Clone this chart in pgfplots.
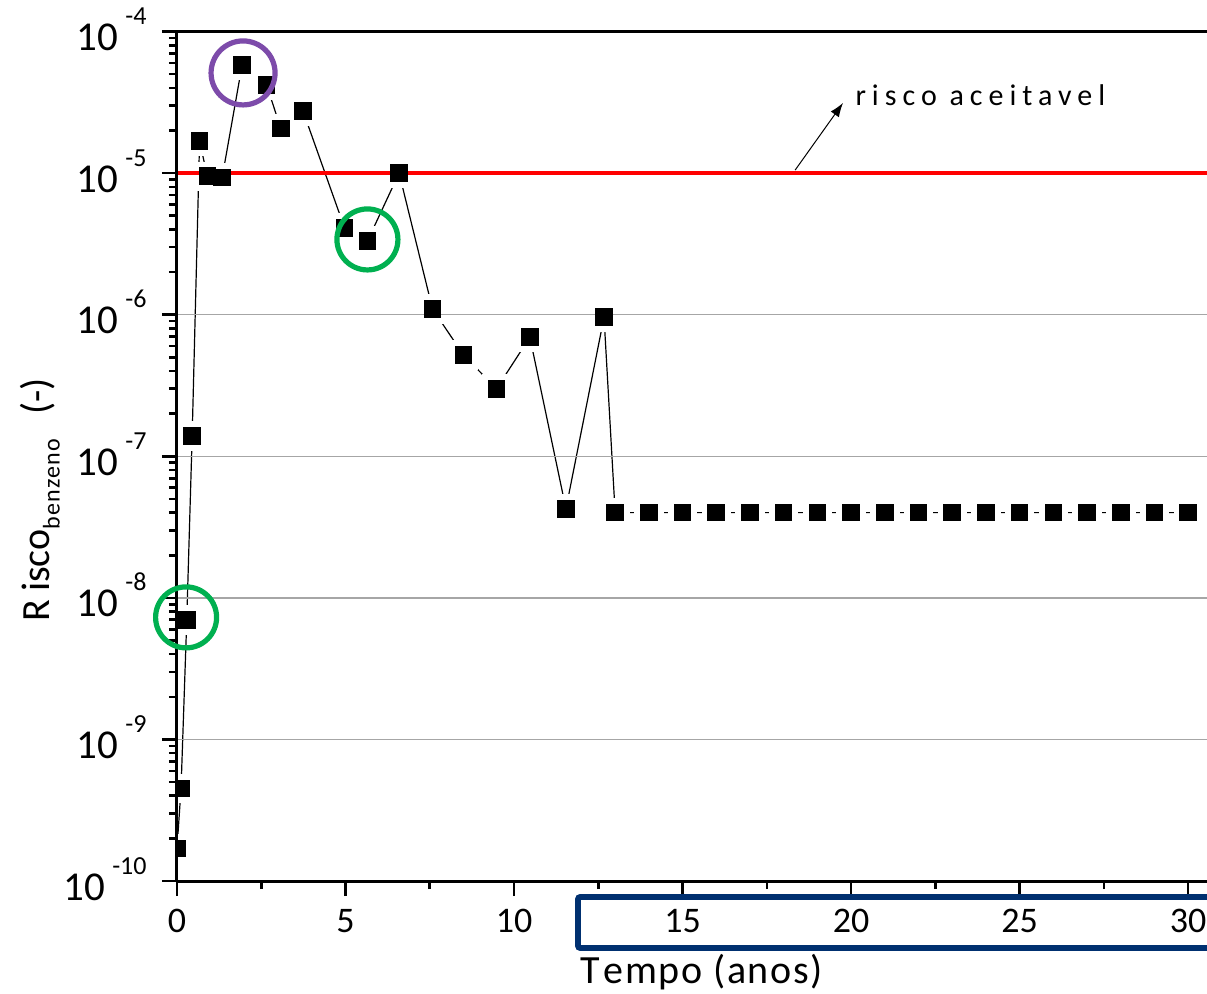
\documentclass[border=0pt]{standalone}
\usepackage{fontspec}
\setmainfont{Carlito}
\usepackage{pgfplots}
\usepackage{pgfplotstable}
\pgfplotsset{compat=1.18}
\usetikzlibrary{arrows.meta}

\definecolor{circpurple}{RGB}{125,75,170}
\definecolor{circgreen}{RGB}{0,176,80}
\definecolor{boxnavy}{RGB}{0,48,112}
\definecolor{gridgray}{RGB}{166,166,166}

% risco do benzeno ao longo do tempo
\pgfplotstableread{
t     risk
0.00  1.7e-10
0.12  4.5e-10
0.29  7.0e-9
0.45  1.39e-7
0.67  1.68e-5
0.90  9.5e-6
1.34  9.3e-6
1.93  5.78e-5
2.66  4.18e-5
3.08  2.07e-5
3.74  2.74e-5
4.97  4.11e-6
5.65  3.31e-6
6.59  1.00e-5
7.58  1.10e-6
8.50  5.19e-7
9.48  3.0e-7
10.47 6.93e-7
11.54 4.26e-8
12.67 9.6e-7
13    4.0e-8
14    4.0e-8
15    4.0e-8
16    4.0e-8
17    4.0e-8
18    4.0e-8
19    4.0e-8
20    4.0e-8
21    4.0e-8
22    4.0e-8
23    4.0e-8
24    4.0e-8
25    4.0e-8
26    4.0e-8
27    4.0e-8
28    4.0e-8
29    4.0e-8
30    4.0e-8
}\riskdata

\newcommand{\ytl}[1]{\fontsize{20.5}{20.5}\selectfont 10\hspace{3.5pt}\raisebox{13pt}{\fontsize{13}{13}\selectfont #1}}

\begin{document}
\begin{tikzpicture}
\useasboundingbox (-88.5pt,-56pt) rectangle (515pt,440.5pt);
\begin{axis}[
  at={(0,0)}, anchor=south west,
  width=515pt, height=424.75pt, scale only axis,
  xmin=0, xmax=30.56,
  ymode=log, ymin=1e-10, ymax=1e-4,
  enlargelimits=false,
  axis lines=left,
  axis on top,
  axis line style={line width=1.5pt, -},
  tick align=outside,
  major tick length=7.5pt,
  minor tick length=4pt,
  tick style={line width=1.3pt, black},
  xtick={0,5,10,15,20,25,30},
  xticklabels={0,5,10,15,20,25,30},
  minor x tick num=1,
  xticklabel style={font=\fontsize{18}{18}\selectfont, anchor=north, inner sep=0pt, yshift=-6.5pt},
  ytick={1e-10,1e-9,1e-8,1e-7,1e-6,1e-5,1e-4},
  yticklabels={{\ytl{-10}},{\ytl{-9}},{\ytl{-8}},{\ytl{-7}},{\ytl{-6}},{\ytl{-5}},{\ytl{-4}}},
  yticklabel style={anchor=base east, inner sep=0pt, xshift=-7.5pt, yshift=-9.5pt},
  clip marker paths=true,
  xlabel={\fontsize{20}{24}\selectfont\addfontfeatures{LetterSpace=4}T\hspace{2pt}empo (anos)},
  every axis x label/.style={at={(axis description cs:0.3913,-0.1212)}, anchor=base west, inner sep=0pt},
  ylabel={\fontsize{20}{24}\selectfont R\hspace{4pt}isco\raisebox{-5pt}{\fontsize{12}{12}\selectfont\addfontfeatures{LetterSpace=5}benzeno}\hspace{12pt}(-)},
  every axis y label/.style={at={(axis description cs:-0.133,0.4485)}, rotate=90, anchor=center, inner sep=0pt},
]
\addplot [black, line width=0.6pt, no marks] table [x=t, y=risk] {\riskdata};
\addplot [white, only marks, mark=square*, mark size=7.1pt, mark options={white, fill=white}] table [x=t, y=risk] {\riskdata};
\addplot [gridgray, line width=0.75pt, no marks] coordinates {(0,1e-6) (30.56,1e-6)};
\addplot [gridgray, line width=0.75pt, no marks] coordinates {(0,1e-7) (30.56,1e-7)};
\addplot [gridgray, line width=0.75pt, no marks] coordinates {(0,1e-8) (30.56,1e-8)};
\addplot [gridgray, line width=0.75pt, no marks] coordinates {(0,1e-9) (30.56,1e-9)};
\addplot [red, line width=2.2pt, no marks] coordinates {(0,1e-5) (30.56,1e-5)};
\addplot [black, only marks, mark=square*, mark size=4.15pt, mark options={black, fill=black, line width=0pt}] table [x=t, y=risk] {\riskdata};
\end{axis}

\begin{axis}[
  at={(0,0)}, anchor=south west,
  width=515pt, height=424.75pt, scale only axis,
  xmin=0, xmax=30.56,
  ymode=log, ymin=1e-10, ymax=1e-4,
  enlargelimits=false,
  hide axis, clip=false,
]
\draw [line width=1.5pt] (rel axis cs:0,1) -- (rel axis cs:1,1);
\addplot [circpurple, only marks, mark=o, mark size=16pt, mark options={circpurple, line width=2.6pt}] coordinates {(1.96,5.1e-5)};
\addplot [circgreen, only marks, mark=o, mark size=15.25pt, mark options={circgreen, line width=2.6pt}] coordinates {(5.65,3.4e-6) (0.27,7.28e-9)};
\draw [line width=0.5pt, -{Latex[length=7pt,width=5pt]}] (axis cs:18.34,1.05e-5) -- (axis cs:19.76,3.13e-5);
\node [anchor=base west, inner sep=0pt] at (axis cs:20.12,2.98e-5) {\fontsize{15}{17}\selectfont\addfontfeatures{LetterSpace=20}risco aceitavel};
\end{axis}

\draw [boxnavy, line width=2.8pt, rounded corners=1pt] (540pt,-8pt) -- (200.5pt,-8pt) -- (200.5pt,-33.5pt) -- (540pt,-33.5pt);
\end{tikzpicture}
\end{document}
